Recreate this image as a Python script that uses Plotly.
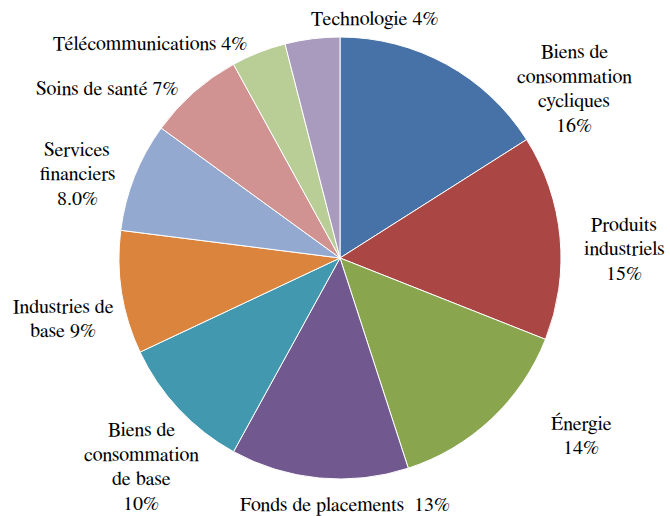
import plotly.graph_objects as go

# ---- data ----
categories = [
    "Biens de consommation cycliques",
    "Produits industriels",
    "Énergie",
    "Fonds de placements",
    "Biens de consommation de base",
    "Industries de base",
    "Services financiers",
    "Soins de santé",
    "Télécommunications",
    "Technologie",
]
values = [16, 15, 14, 13, 10, 9, 8.0, 7, 4, 4]
value_labels = ["16%", "15%", "14%", "13%", "10%", "9%", "8.0%", "7%", "4%", "4%"]

# label text lines (as drawn in the chart)
label_lines = [
    ["Biens de", "consommation", "cycliques", "16%"],
    ["Produits", "industriels", "15%"],
    ["Énergie", "14%"],
    ["Fonds de placements\u00a0\u00a013%"],
    ["Biens de", "consommation", "de base", "10%"],
    ["Industries de", "base 9%"],
    ["Services", "financiers", "8.0%"],
    ["Soins de santé 7%"],
    ["Télécommunications 4%"],
    ["Technologie 4%"],
]

colors = ["#4672A8", "#AA4744", "#89A54E", "#71588F", "#4198AF",
          "#DB843D", "#93A9CF", "#D19392", "#B9CD96", "#A99BBD"]

# ---- layout (pixels) ----
W, H = 670, 516
CX, CY, R = 340, 258, 221
label_centres = [(574, 89), (624, 249), (581, 436), (345, 505), (141, 467),
                 (63, 319), (77, 174), (107, 89), (150, 44), (375, 20)]
LINE_H = 24.5
FONT = "FreeSerif, Liberation Serif, serif"

fig = go.Figure(go.Pie(
    labels=categories,
    values=values,
    sort=False,
    direction="clockwise",
    rotation=0,
    marker=dict(colors=colors, line=dict(color="white", width=1)),
    textinfo="none",
    hoverinfo="skip",
    showlegend=False,
    domain=dict(x=[(CX - R) / W, (CX + R) / W],
                y=[1 - (CY + R) / H, 1 - (CY - R) / H]),
))

annotations = []
for lines, (lx, ly) in zip(label_lines, label_centres):
    n = len(lines)
    for i, t in enumerate(lines):
        yy = ly + (i - (n - 1) / 2) * LINE_H
        annotations.append(dict(
            x=lx / W, y=1 - yy / H, xref="paper", yref="paper",
            text=t, showarrow=False, xanchor="center", yanchor="middle",
            font=dict(family=FONT, size=20, color="black"),
        ))

fig.update_layout(
    width=W, height=H,
    margin=dict(l=0, r=0, t=0, b=0),
    paper_bgcolor="white",
    annotations=annotations,
)

fig.write_html(
    "out.html",
    config={"displayModeBar": False},
    post_script="document.body.style.margin='0';",
)
